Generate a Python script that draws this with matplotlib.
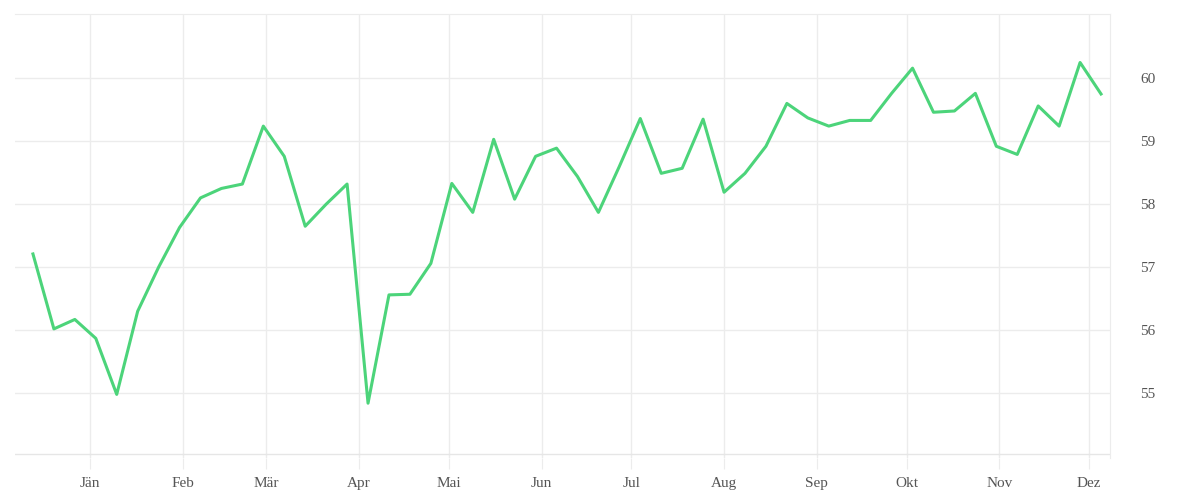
import matplotlib.pyplot as plt
import matplotlib.dates as mdates
import pandas as pd

# --- data (weekly values) ---
start_date = "2022-12-13"
values = [57.21, 56.02, 56.17, 55.87, 54.98, 56.30, 57.00, 57.63, 58.10, 58.25,
          58.32, 59.24, 58.76, 57.65, 58.00, 58.32, 54.84, 56.56, 56.57, 57.06,
          58.33, 57.87, 59.03, 58.08, 58.76, 58.89, 58.44, 57.87, 58.60, 59.36,
          58.49, 58.57, 59.35, 58.19, 58.49, 58.92, 59.60, 59.37, 59.24, 59.33,
          59.33, 59.76, 60.16, 59.46, 59.48, 59.76, 58.92, 58.79, 59.56, 59.24,
          60.25, 59.75]
month_labels = ["Jän", "Feb", "Mär", "Apr", "Mai", "Jun",
                "Jul", "Aug", "Sep", "Okt", "Nov", "Dez"]
y_ticks = [55, 56, 57, 58, 59, 60]

dates = pd.date_range(start_date, periods=len(values), freq="7D")

plt.rcParams['font.family'] = ['Liberation Serif', 'DejaVu Serif']

fig = plt.figure(figsize=(12, 5), dpi=100)
ax = fig.add_axes([0.0125, 0.084, 0.9125, 0.888])

ax.plot(dates, values, color="#4cd47a", linewidth=2.2)

ax.set_xlim(pd.Timestamp("2022-12-07"), pd.Timestamp("2023-12-08"))
ax.set_ylim(53.97, 61.02)

ticks = pd.date_range("2023-01-01", periods=12, freq="MS")
ax.set_xticks(ticks)
ax.set_xticklabels(month_labels)
ax.set_yticks(y_ticks)
ax.yaxis.tick_right()

ax.grid(True, color="#ececec", linewidth=1)
ax.axhline(54.04, color="#e6e6e6", linewidth=1)
for s in ["left", "bottom"]:
    ax.spines[s].set_visible(False)
ax.spines["right"].set_color("#ececec")
ax.spines["top"].set_color("#ececec")
ax.tick_params(axis="both", length=0, labelsize=11, colors="#555555", pad=22)
ax.tick_params(axis="x", length=8, color="#ececec", pad=6)

fig.savefig("out.png")
